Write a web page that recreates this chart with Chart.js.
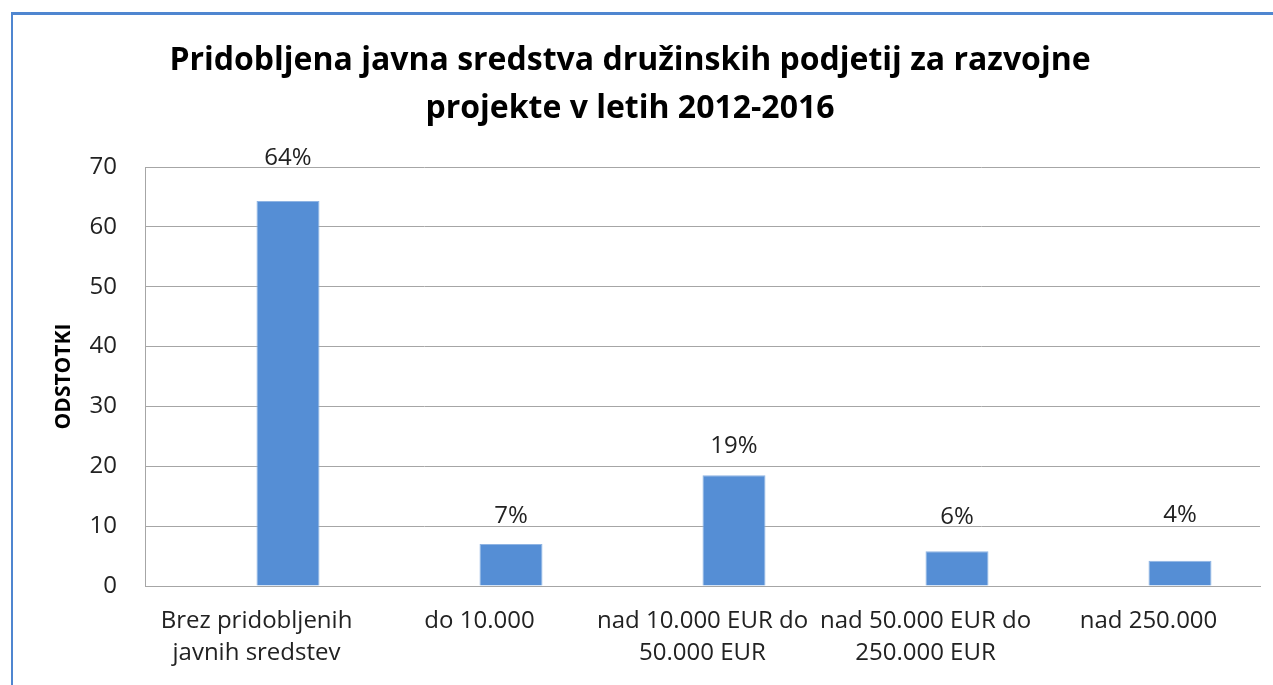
<!DOCTYPE html>
<html>
<head>
<meta charset="utf-8">
<script src="https://cdn.jsdelivr.net/npm/chart.js@4/dist/chart.umd.min.js"></script>
<style>
  body { margin: 0; background: #fff; overflow: hidden; }
  #wrap { position: relative; width: 1273px; height: 685px; }
  #frame {
    position: absolute; left: 11px; top: 12px; width: 1300px; height: 700px;
    border-left: 2px solid #4f86d0; border-top: 3px solid #4f86d0;
    pointer-events: none;
  }
</style>
</head>
<body>
<div id="wrap">
  <canvas id="chart" width="1273" height="685"></canvas>
  <div id="frame"></div>
</div>
<script>
const categories = [
  ["Brez pridobljenih", "javnih sredstev"],
  ["do 10.000"],
  ["nad 10.000 EUR do", "50.000 EUR"],
  ["nad 50.000 EUR do", "250.000 EUR"],
  ["nad 250.000"]
];
const emptySeries = [null, null, null, null, null];
const shares = [64.3, 7.0, 18.5, 5.8, 4.2];
const yTicks = [0, 10, 20, 30, 40, 50, 60, 70];

// distance of each % label baseline above its bar (px), as placed in the original
const labelLift = [36, 21, 22, 27, 39];

const FONT = "'Open Sans', sans-serif";

const pctLabels = {
  id: "pctLabels",
  afterDatasetsDraw(chart) {
    const ctx = chart.ctx;
    const meta = chart.getDatasetMeta(1);
    ctx.save();
    ctx.font = "24px " + FONT;
    ctx.fillStyle = "#222";
    ctx.textAlign = "center";
    ctx.textBaseline = "alphabetic";
    meta.data.forEach((bar, i) => {
      ctx.fillText(Math.round(shares[i]) + "%", bar.x, bar.y - labelLift[i]);
    });
    ctx.restore();
  }
};

new Chart(document.getElementById("chart"), {
  type: "bar",
  data: {
    labels: categories,
    datasets: [
      { label: "", data: emptySeries, backgroundColor: "#558ed5" },
      { label: "Odstotki", data: shares, backgroundColor: "#558ed5",
        borderColor: "#8fb4e3", borderWidth: 1 }
    ]
  },
  options: {
    responsive: false,
    animation: false,
    layout: { padding: { left: 0, right: 13, top: 0, bottom: 0 } },
    datasets: { bar: { categoryPercentage: 0.565, barPercentage: 1 } },
    plugins: {
      legend: { display: false },
      tooltip: { enabled: false },
      title: {
        display: true,
        text: ["Pridobljena javna sredstva družinskih podjetij za razvojne",
               "projekte v letih 2012-2016"],
        color: "#000",
        font: { family: FONT, size: 32, weight: "bold", lineHeight: 1.5 },
        padding: { top: 37, bottom: 34 }
      }
    },
    scales: {
      x: {
        grid: { display: false, drawTicks: false },
        border: { color: "#a6a6a6", width: 1 },
        ticks: {
          color: "#222", autoSkip: false, maxRotation: 0, padding: 19,
          font: { family: FONT, size: 24, lineHeight: 1.35 }
        },
        afterFit(s) { s.height = 99; }
      },
      y: {
        min: 0, max: 70,
        afterBuildTicks(s) { s.ticks = yTicks.map(v => ({ value: v })); },
        grid: { color: "#a6a6a6", drawTicks: false },
        border: { color: "#a6a6a6", width: 1 },
        ticks: {
          color: "#222", padding: 28,
          font: { family: FONT, size: 24 }
        },
        title: {
          display: true, text: "ODSTOTKI", color: "#000",
          font: { family: FONT, size: 21, weight: "bold" },
          padding: { top: 51, bottom: 0 }
        },
        afterFit(s) { s.width = 145; }
      }
    }
  },
  plugins: [pctLabels]
});
</script>
</body>
</html>
